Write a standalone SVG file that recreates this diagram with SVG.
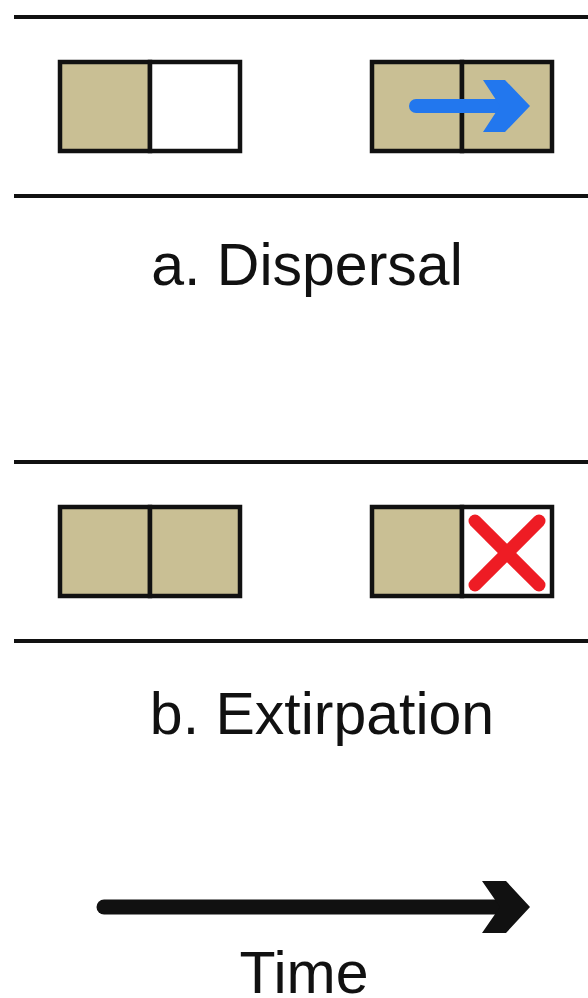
<svg xmlns="http://www.w3.org/2000/svg" width="588" height="998" viewBox="0 0 588 998">
  <style>
    .rule { stroke: #111; stroke-width: 4; }
    .cell { stroke: #111; stroke-width: 4.5; }
    .occ { fill: #C9BF94; }
    .empty { fill: #FFFFFF; }
    .label { font-family: "Liberation Sans", Arial, sans-serif; font-size: 59px; fill: #111; text-anchor: middle; }
  </style>
  <rect width="588" height="998" fill="#FFFFFF"/>

  <!-- a. Dispersal -->
  <g id="dispersal">
    <line class="rule" x1="14" y1="17" x2="588" y2="17"/>
    <line class="rule" x1="14" y1="196" x2="588" y2="196"/>
    <g id="dispersal-before">
      <rect class="cell occ" x="60" y="62" width="90" height="89"/>
      <rect class="cell empty" x="150" y="62" width="90" height="89"/>
    </g>
    <g id="dispersal-after">
      <rect class="cell occ" x="372" y="62" width="90" height="89"/>
      <rect class="cell occ" x="462" y="62" width="90" height="89"/>
      <line x1="416" y1="106" x2="504" y2="106" stroke="#2277EE" stroke-width="14" stroke-linecap="round"/>
      <polygon points="483,80 505,80 530,106 505,132 483,132 500,106" fill="#2277EE"/>
    </g>
    <text class="label" x="307" y="285">a. Dispersal</text>
  </g>

  <!-- b. Extirpation -->
  <g id="extirpation">
    <line class="rule" x1="14" y1="462" x2="588" y2="462"/>
    <line class="rule" x1="14" y1="641" x2="588" y2="641"/>
    <g id="extirpation-before">
      <rect class="cell occ" x="60" y="507" width="90" height="89"/>
      <rect class="cell occ" x="150" y="507" width="90" height="89"/>
    </g>
    <g id="extirpation-after">
      <rect class="cell occ" x="372" y="507" width="90" height="89"/>
      <rect class="cell empty" x="462" y="507" width="90" height="89"/>
      <g stroke="#EE1C24" stroke-width="13" stroke-linecap="round">
        <line x1="475" y1="521" x2="539" y2="585"/>
        <line x1="539" y1="521" x2="475" y2="585"/>
      </g>
    </g>
    <text class="label" x="322" y="734">b. Extirpation</text>
  </g>

  <!-- time axis -->
  <g id="time">
    <line x1="104" y1="907" x2="504" y2="907" stroke="#111" stroke-width="15" stroke-linecap="round"/>
    <polygon points="482,881 506,881 530,907 506,933 482,933 500,907" fill="#111"/>
    <text class="label" x="304" y="993">Time</text>
  </g>
</svg>
